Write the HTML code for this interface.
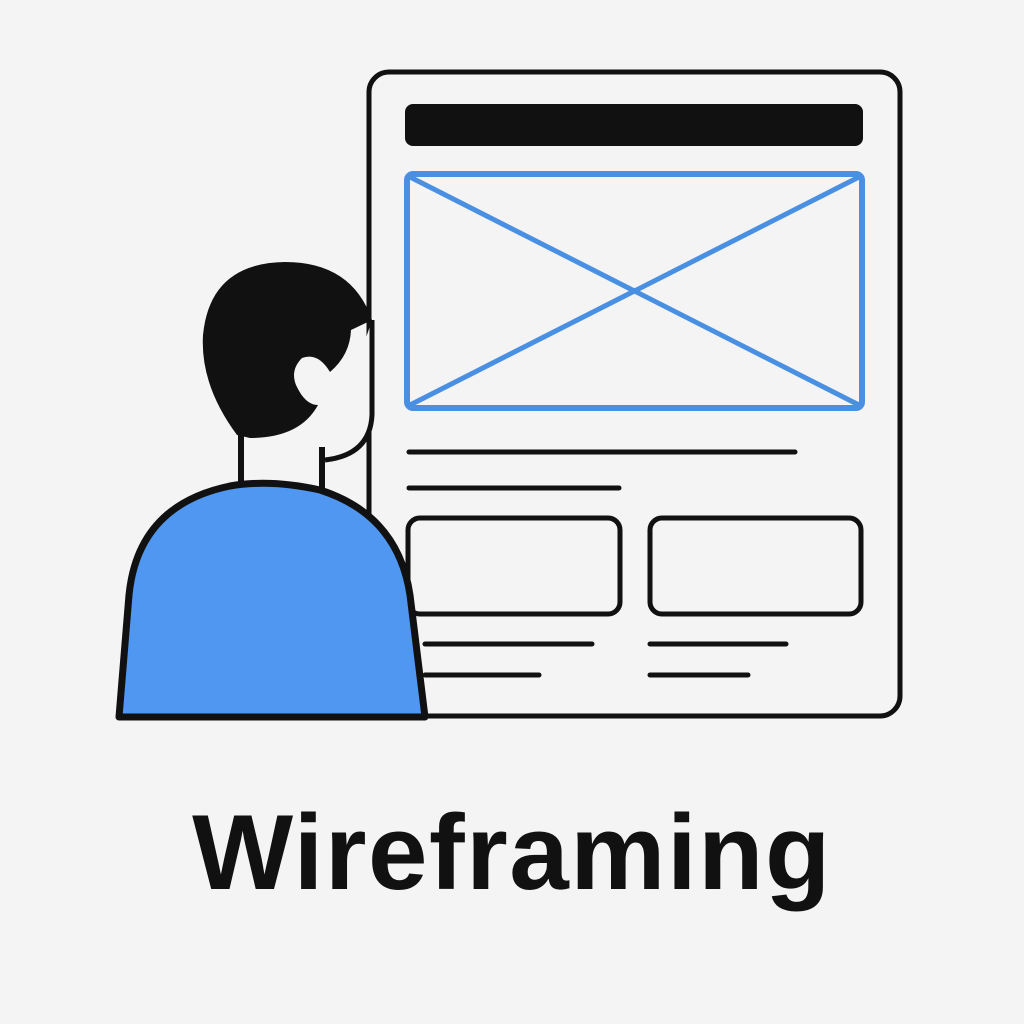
<!DOCTYPE html>
<html><head><style>
html,body{margin:0;padding:0;background:#f4f4f4;}
.t{position:absolute;left:0;width:1024px;top:790px;text-align:center;font-family:"Liberation Sans",sans-serif;font-weight:bold;font-size:107px;color:#111;letter-spacing:1.5px;}
</style></head><body>
<svg width="1024" height="1024" viewBox="0 0 1024 1024" style="position:absolute;left:0;top:0">
<rect width="1024" height="1024" fill="#f4f4f4"/>
<rect x="369" y="72" width="531" height="644" rx="20" fill="#f4f4f4" stroke="#111" stroke-width="5"/>
<rect x="405" y="104" width="458" height="42" rx="8" fill="#111"/>
<rect x="407" y="174" width="455" height="234" rx="6" fill="none" stroke="#4a90e2" stroke-width="6"/>
<line x1="410" y1="177" x2="859" y2="405" stroke="#4a90e2" stroke-width="5"/>
<line x1="859" y1="177" x2="410" y2="405" stroke="#4a90e2" stroke-width="5"/>
<g stroke="#111" stroke-width="5" stroke-linecap="round" fill="none">
<line x1="409" y1="452" x2="795" y2="452"/>
<line x1="409" y1="488" x2="619" y2="488"/>
<rect x="408" y="518" width="212" height="96" rx="12"/>
<rect x="650" y="518" width="211" height="96" rx="12"/>
<line x1="425" y1="644" x2="592" y2="644"/>
<line x1="650" y1="644" x2="786" y2="644"/>
<line x1="425" y1="675" x2="539" y2="675"/>
<line x1="650" y1="675" x2="748" y2="675"/>
</g>
<!-- person -->
<path d="M372 320 L372 415 Q370 455 325 460" fill="#f4f4f4" stroke="#111" stroke-width="5"/>
<rect x="244" y="420" width="76" height="70" fill="#f4f4f4"/>
<line x1="241" y1="435" x2="241" y2="485" stroke="#111" stroke-width="6"/>
<line x1="322" y1="447" x2="322" y2="490" stroke="#111" stroke-width="6"/>
<path d="M237 435 Q200 385 203 335 Q210 263 285 262 Q352 262 372 320 L351 330 Q350 355 330 372 Q318 352 302 358 Q290 370 296 385 Q305 405 318 405 Q300 438 250 438 Z" fill="#111"/>
<path d="M119 717 L129 595 Q138 505 230 486 Q270 479 320 490 Q398 515 410 595 L425 717 Z" fill="#4f97f0" stroke="#111" stroke-width="7" stroke-linejoin="round"/>
</svg>
<div class="t">Wireframing</div>
</body></html>
